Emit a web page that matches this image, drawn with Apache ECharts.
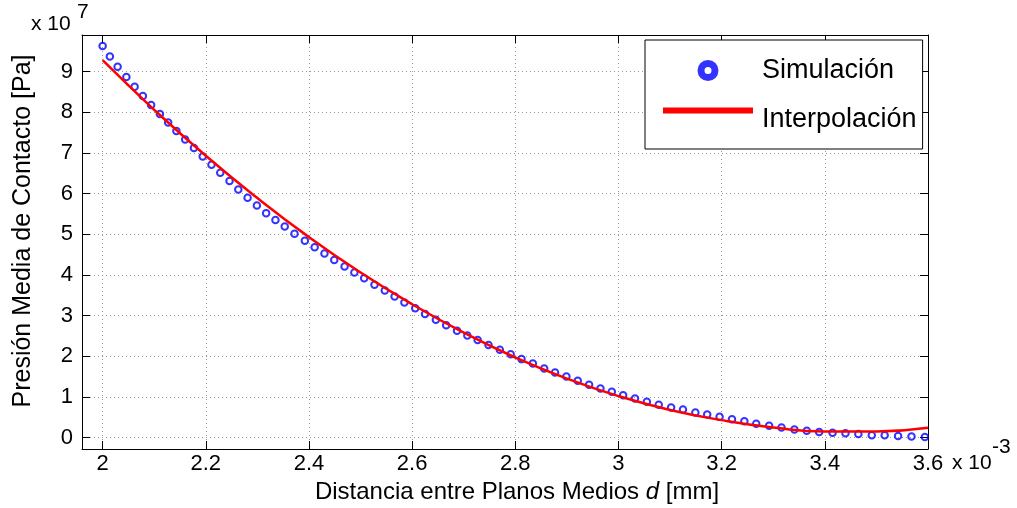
<!DOCTYPE html>
<html>
<head>
<meta charset="utf-8">
<script src="https://cdn.jsdelivr.net/npm/echarts@6/dist/echarts.min.js"></script>
<style>html,body{margin:0;padding:0;background:#fff;}#c{width:1017px;height:508px;}</style>
</head>
<body>
<div id="c"></div>
<script>
// Simulation points: x in units of 1e-3 mm, y in units of 1e7 Pa
const simX = [2.000,2.014,2.029,2.046,2.062,2.078,2.094,2.111,2.127,2.143,2.160,2.177,2.194,2.211,2.228,2.246,2.263,2.281,2.299,2.317,2.335,2.353,2.372,2.392,2.411,2.430,2.449,2.469,2.488,2.507,2.527,2.547,2.566,2.585,2.606,2.625,2.646,2.666,2.687,2.707,2.727,2.748,2.770,2.791,2.812,2.834,2.856,2.877,2.899,2.921,2.943,2.965,2.987,3.009,3.032,3.055,3.078,3.102,3.125,3.149,3.172,3.196,3.220,3.244,3.267,3.292,3.316,3.341,3.365,3.389,3.415,3.440,3.465,3.491,3.516,3.542,3.568,3.594];
const simY = [9.63,9.37,9.12,8.87,8.63,8.40,8.18,7.96,7.75,7.54,7.33,7.12,6.91,6.71,6.51,6.31,6.10,5.90,5.71,5.52,5.35,5.19,5.01,4.84,4.68,4.53,4.37,4.21,4.06,3.92,3.76,3.62,3.47,3.32,3.18,3.04,2.90,2.76,2.63,2.51,2.40,2.28,2.16,2.05,1.93,1.82,1.70,1.60,1.50,1.40,1.30,1.21,1.13,1.04,0.96,0.88,0.81,0.74,0.69,0.62,0.57,0.51,0.45,0.40,0.34,0.29,0.25,0.20,0.17,0.14,0.12,0.11,0.09,0.06,0.06,0.04,0.03,0.015];
// Interpolation curve
const fitX = [2.0,2.1,2.2,2.3,2.4,2.5,2.6,2.7,2.8,2.9,3.0,3.1,3.2,3.3,3.4,3.5,3.6];
const fitY = [9.28,8.06,6.93,5.89,4.93,4.06,3.28,2.58,1.97,1.45,1.02,0.68,0.43,0.25,0.15,0.15,0.24];
const xTicks = ['2','2.2','2.4','2.6','2.8','3','3.2','3.4','3.6'];
const yTicks = ['0','1','2','3','4','5','6','7','8','9'];
const seriesNames = ['Simulación','Interpolación'];

const FF = '"Liberation Sans", Arial, Helvetica, sans-serif';
const chart = echarts.init(document.getElementById('c'), null, {renderer:'canvas'});

function xFmt(v){
  const k = v*5;
  if (Math.abs(k-Math.round(k))>1e-6) return '';
  const s = String(parseFloat(v.toFixed(1)));
  return xTicks.indexOf(s) >= 0 ? s : '';
}
function yFmt(v){
  if (Math.abs(v-Math.round(v))>1e-6) return '';
  const s = String(Math.round(v));
  return yTicks.indexOf(s) >= 0 ? s : '';
}
const axisCommon = {
  axisLine:{show:true, onZero:false, lineStyle:{color:'#000', width:1}},
  axisTick:{show:true, inside:true, length:8, lineStyle:{color:'#000', width:1}}
};

const option = {
  backgroundColor:'#fff',
  animation:false,
  grid:{left:82, right:89, top:35, bottom:59, containLabel:false, outerBoundsMode:'none'},
  xAxis:[
    Object.assign({
      type:'value', min:1.96, max:3.6, splitNumber:8, position:'bottom',
      axisLabel:{formatter:xFmt, color:'#000', fontSize:22, fontFamily:FF, margin:4, showMinLabel:false},
      splitLine:{show:true, lineStyle:{color:'#999', width:1, type:[1,3]}},
      name:'{a|Distancia entre Planos Medios }{i|d}{a| [mm]}', nameLocation:'middle', nameGap:28,
      nameTextStyle:{padding:[0,0,0,24], rich:{a:{fontSize:24, fontFamily:FF, color:'#000'}, i:{fontSize:24, fontFamily:FF, fontStyle:'italic', color:'#000'}}}
    }, axisCommon),
    Object.assign({
      type:'value', min:1.96, max:3.6, splitNumber:8, position:'top',
      axisLabel:{show:false}, splitLine:{show:false}
    }, axisCommon)
  ],
  yAxis:[
    Object.assign({
      type:'value', min:-0.28, max:9.9, splitNumber:10, position:'left',
      axisLabel:{formatter:yFmt, color:'#000', fontSize:22, fontFamily:FF, margin:9, showMinLabel:false, showMaxLabel:false},
      splitLine:{show:true, lineStyle:{color:'#999', width:1, type:[1,3]}},
      name:'Presión Media de Contacto [Pa]', nameLocation:'middle', nameGap:46, nameRotate:90,
      nameTextStyle:{fontSize:25, fontFamily:FF, color:'#000', padding:[0,0,0,22]}
    }, axisCommon),
    Object.assign({
      type:'value', min:-0.28, max:9.9, splitNumber:10, position:'right',
      axisLabel:{show:false}, splitLine:{show:false}
    }, axisCommon)
  ],
  legend:{
    left:645, top:40, orient:'vertical', selectedMode:false,
    backgroundColor:'#fff', borderColor:'#000', borderWidth:1,
    padding:[17,6,16,18], itemWidth:90, itemHeight:14, itemGap:4,
    formatter: function(name){ return name === seriesNames[1] ? '{b|' + name + '}' : '{a|' + name + '}'; },
    textStyle:{fontSize:27, fontFamily:FF, color:'#000', padding:[0,0,0,4],
      rich:{
        a:{fontSize:27, fontFamily:FF, color:'#000', lineHeight:30},
        b:{fontSize:27, fontFamily:FF, color:'#000', lineHeight:30, padding:[18,0,0,0]}
      }},
    data:[
      {name:seriesNames[0], icon:'circle', itemStyle:{color:'rgba(0,0,0,0)', borderColor:'#0000ff', borderWidth:7}},
      {name:seriesNames[1], icon:'path://M0,0L90,0L90,6L0,6Z', itemStyle:{color:'#ff0000'}, lineStyle:{width:6, color:'#ff0000'}}
    ]
  },
  graphic:[
    {type:'text', left:31, top:14, style:{text:'x 10', font:'21px '+FF, fill:'#000'}},
    {type:'text', left:77, top:2, style:{text:'7', font:'21px '+FF, fill:'#000'}},
    {type:'text', left:952, top:453, style:{text:'x 10', font:'21px '+FF, fill:'#000'}},
    {type:'text', left:992, top:437, style:{text:'-3', font:'21px '+FF, fill:'#000'}}
  ],
  series:[
    {
      name:seriesNames[0], type:'scatter', xAxisIndex:0, yAxisIndex:0, z:2,
      symbol:'circle', symbolSize:6.5,
      itemStyle:{color:'rgba(0,0,0,0)', borderColor:'#0000ff', borderWidth:2},
      data: simX.map((x,i)=>[x, simY[i]])
    },
    {
      name:seriesNames[1], type:'line', xAxisIndex:0, yAxisIndex:0, z:3,
      symbol:'none', showSymbol:false, smooth:true,
      lineStyle:{color:'#ff0000', width:2.5},
      itemStyle:{color:'#ff0000'},
      data: fitX.map((x,i)=>[x, fitY[i]])
    }
  ]
};
chart.setOption(option);
</script>
</body>
</html>
